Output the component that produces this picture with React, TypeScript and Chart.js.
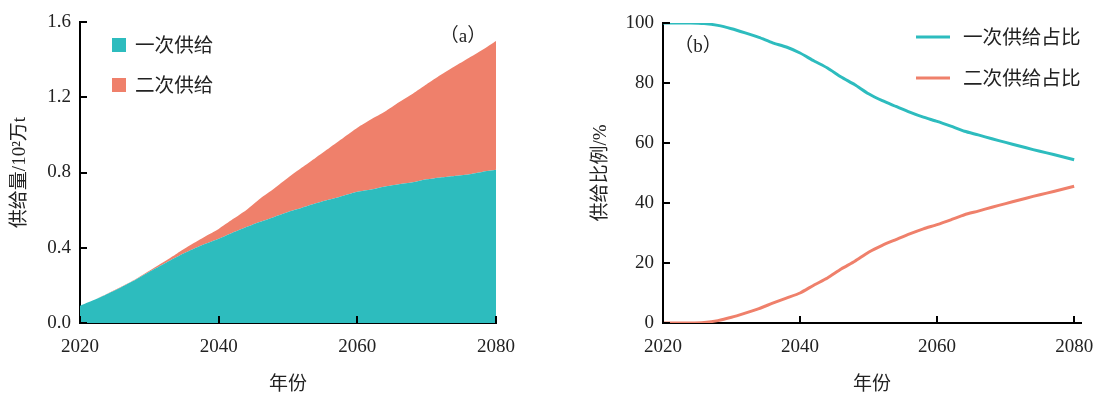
import React, { useEffect, useRef } from "react";
import { Chart, registerables } from "chart.js";

Chart.register(...registerables);

// ---------- data ----------
const years = [
  2020, 2022, 2024, 2026, 2028, 2030, 2032, 2034, 2036, 2038, 2040, 2042, 2044, 2046, 2048, 2050,
  2052, 2054, 2056, 2058, 2060, 2062, 2064, 2066, 2068, 2070, 2072, 2074, 2076, 2078, 2080,
];
// supply, 10^2 万t
const primarySupply = [
  0.092, 0.122, 0.156, 0.192, 0.23, 0.272, 0.312, 0.352, 0.388, 0.42, 0.448, 0.48, 0.51, 0.538, 0.564, 0.59,
  0.612, 0.636, 0.656, 0.677, 0.698, 0.71, 0.726, 0.738, 0.748, 0.764, 0.774, 0.782, 0.79, 0.803, 0.814,
];
const secondarySupply = [
  0, 0, 0.001, 0.002, 0.003, 0.006, 0.011, 0.018, 0.028, 0.039, 0.052, 0.071, 0.091, 0.124, 0.151, 0.182,
  0.214, 0.243, 0.276, 0.308, 0.34, 0.373, 0.398, 0.435, 0.471, 0.505, 0.544, 0.581, 0.617, 0.648, 0.685,
];
// share, %
const primaryShare = [
  100, 100, 100, 99.8, 99.2, 98.1, 96.7, 95.2, 93.4, 92.0, 90.0, 87.4, 85.0, 82.0, 79.4, 76.4,
  74.1, 72.2, 70.3, 68.6, 67.2, 65.6, 63.9, 62.7, 61.4, 60.2, 59.0, 57.8, 56.7, 55.6, 54.4,
];
const secondaryShare = [
  0, 0, 0, 0.2, 0.8, 1.9, 3.3, 4.8, 6.6, 8.3, 10.0, 12.6, 15.0, 18.0, 20.6, 23.6,
  25.9, 27.8, 29.7, 31.4, 32.8, 34.4, 36.1, 37.3, 38.6, 39.8, 41.0, 42.2, 43.3, 44.4, 45.6,
];
const yearTicks = [2020, 2040, 2060, 2080];
const supplyTicks = [0, 0.4, 0.8, 1.2, 1.6];
const shareTicks = [0, 20, 40, 60, 80, 100];
const supplyLabels = ["一次供给", "二次供给"];
const shareLabels = ["一次供给占比", "二次供给占比"];

const TEAL = "#2dbcbe";
const SALMON = "#ef806b";
const TEXT = "#222222";
const NUM_FONT = "'Liberation Serif', 'Noto Sans CJK SC', serif";
const CJK_FONT = "'Noto Sans CJK SC', 'Liberation Serif', sans-serif";

const toPoints = (vals: number[]) => years.map((x, i) => ({ x, y: vals[i] }));

const innerTicks = {
  id: "innerTicks",
  afterDraw(chart: any) {
    const { ctx, chartArea } = chart;
    const xs = chart.scales.x;
    const ys = chart.scales.y;
    ctx.save();
    ctx.strokeStyle = "#000";
    ctx.lineWidth = 2;
    xs.ticks.forEach((t: any) => {
      const px = Math.round(xs.getPixelForValue(t.value));
      ctx.beginPath();
      ctx.moveTo(px, chartArea.bottom);
      ctx.lineTo(px, chartArea.bottom - 7);
      ctx.stroke();
    });
    ys.ticks.forEach((t: any) => {
      const py = Math.round(ys.getPixelForValue(t.value));
      ctx.beginPath();
      ctx.moveTo(chartArea.left, py);
      ctx.lineTo(chartArea.left + 7, py);
      ctx.stroke();
    });
    ctx.restore();
  },
};

function makeLegend(kind: "box" | "line", x0: number, rows: number[], panel: string, px: number, py: number) {
  return {
    id: "customLegend",
    afterDraw(chart: any) {
      const { ctx } = chart;
      ctx.save();
      chart.data.datasets.forEach((ds: any, i: number) => {
        const cy = rows[i];
        if (kind === "box") {
          ctx.fillStyle = ds.backgroundColor;
          ctx.fillRect(x0, cy - 7, 14, 14);
        } else {
          ctx.strokeStyle = ds.borderColor;
          ctx.lineWidth = 3;
          ctx.beginPath();
          ctx.moveTo(x0, cy);
          ctx.lineTo(x0 + 34, cy);
          ctx.stroke();
        }
        ctx.fillStyle = TEXT;
        ctx.font = `19.6px ${CJK_FONT}`;
        ctx.textAlign = "left";
        ctx.textBaseline = "middle";
        ctx.fillText(ds.label, kind === "box" ? x0 + 23 : x0 + 47, cy);
      });
      ctx.font = `19px ${NUM_FONT}`;
      ctx.textAlign = "center";
      ctx.textBaseline = "middle";
      ctx.fillText(panel, px, py);
      ctx.restore();
    },
  };
}

function baseScales(
  xMax: number,
  yMin: number,
  yMax: number,
  yTickVals: number[],
  yTitle: string,
  yWidth: number,
  yTitlePad: number,
  fmt: (v: number) => string,
  stacked: boolean
) {
  return {
    x: {
      type: "linear",
      min: 2020,
      max: xMax,
      afterBuildTicks: (s: any) => {
        s.ticks = yearTicks.map((v) => ({ value: v }));
      },
      afterFit: (s: any) => {
        s.height = 72;
        s.paddingLeft = 0;
        s.paddingRight = 0;
      },
      grid: { display: true, drawOnChartArea: false, drawTicks: false },
      border: { display: true, color: "#000", width: 2 },
      ticks: {
        padding: 13,
        autoSkip: false,
        maxRotation: 0,
        color: TEXT,
        font: { family: NUM_FONT, size: 19 },
        callback: (v: any) => String(v),
      },
      title: {
        display: true,
        text: "年份",
        color: TEXT,
        font: { family: CJK_FONT, size: 19 },
        padding: { top: 0, bottom: 1 },
      },
    },
    y: {
      type: "linear",
      min: yMin,
      max: yMax,
      stacked,
      afterBuildTicks: (s: any) => {
        s.ticks = yTickVals.map((v) => ({ value: v }));
      },
      afterFit: (s: any) => {
        s.width = yWidth;
        s.paddingTop = 0;
        s.paddingBottom = 0;
      },
      grid: { display: true, drawOnChartArea: false, drawTicks: false },
      border: { display: true, color: "#000", width: 2 },
      ticks: {
        padding: 9,
        color: TEXT,
        font: { family: NUM_FONT, size: 19 },
        callback: (v: any) => fmt(Number(v)),
      },
      title: {
        display: true,
        text: yTitle,
        color: TEXT,
        font: { family: NUM_FONT, size: 19 },
        padding: { top: yTitlePad, bottom: 0 },
      },
    },
  };
}

export default function App() {
  const leftRef = useRef<HTMLCanvasElement>(null);
  const rightRef = useRef<HTMLCanvasElement>(null);

  useEffect(() => {
    const left = new Chart(leftRef.current as HTMLCanvasElement, {
      type: "line",
      data: {
        datasets: [
          {
            label: supplyLabels[0],
            data: toPoints(primarySupply),
            backgroundColor: TEAL,
            borderColor: TEAL,
            borderWidth: 0,
            pointRadius: 0,
            tension: 0.2,
            fill: "origin",
          },
          {
            label: supplyLabels[1],
            data: toPoints(secondarySupply),
            backgroundColor: SALMON,
            borderColor: SALMON,
            borderWidth: 0,
            pointRadius: 0,
            tension: 0.2,
            fill: "-1",
          },
        ],
      },
      options: {
        responsive: false,
        animation: false,
        devicePixelRatio: 1,
        layout: { padding: { top: 22, right: 44, bottom: 0, left: 0 } },
        plugins: { legend: { display: false }, tooltip: { enabled: false } },
        scales: baseScales(2080, 0, 1.6, supplyTicks, "供给量/10²万t", 80, 9, (v) => v.toFixed(1), true) as any,
      },
      plugins: [innerTicks, makeLegend("box", 112, [45, 85], "（a）", 463, 37)],
    } as any);

    const right = new Chart(rightRef.current as HTMLCanvasElement, {
      type: "line",
      data: {
        datasets: [
          {
            label: shareLabels[0],
            data: toPoints(primaryShare),
            borderColor: TEAL,
            backgroundColor: TEAL,
            borderWidth: 3,
            pointRadius: 0,
            tension: 0.2,
            fill: false,
          },
          {
            label: shareLabels[1],
            data: toPoints(secondaryShare),
            borderColor: SALMON,
            backgroundColor: SALMON,
            borderWidth: 3,
            pointRadius: 0,
            tension: 0.2,
            fill: false,
          },
        ],
      },
      options: {
        responsive: false,
        animation: false,
        devicePixelRatio: 1,
        layout: { padding: { top: 23, right: 20, bottom: 0, left: 0 } },
        plugins: { legend: { display: false }, tooltip: { enabled: false } },
        scales: baseScales(2081, 0, 100, shareTicks, "供给比例/%", 108, 35, (v) => String(v), false) as any,
      },
      plugins: [innerTicks, makeLegend("line", 361, [37, 78], "（b）", 143, 47)],
    } as any);

    return () => {
      left.destroy();
      right.destroy();
    };
  }, []);

  return (
    <div style={{ position: "fixed", left: 0, top: 0, width: 1101, height: 395, background: "#fff" }}>
      <canvas ref={leftRef} width={540} height={395} style={{ position: "absolute", left: 0, top: 0 }} />
      <canvas ref={rightRef} width={546} height={395} style={{ position: "absolute", left: 555, top: 0 }} />
    </div>
  );
}
